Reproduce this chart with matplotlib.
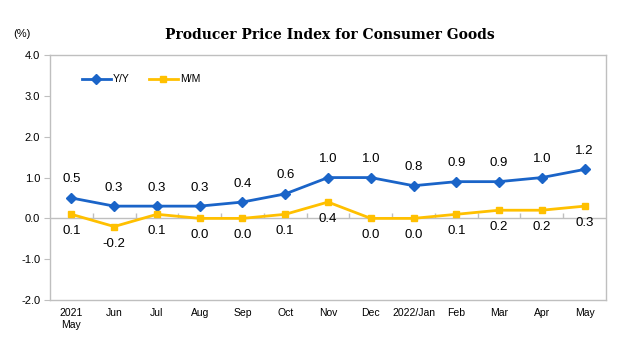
import numpy as np
import matplotlib.pyplot as plt

months = ['2021\nMay', 'Jun', 'Jul', 'Aug', 'Sep', 'Oct', 'Nov', 'Dec',
          '2022/Jan', 'Feb', 'Mar', 'Apr', 'May']
yy = [0.5, 0.3, 0.3, 0.3, 0.4, 0.6, 1.0, 1.0, 0.8, 0.9, 0.9, 1.0, 1.2]
mm = [0.1, -0.2, 0.1, 0.0, 0.0, 0.1, 0.4, 0.0, 0.0, 0.1, 0.2, 0.2, 0.3]

blue = '#1a64c8'
yellow = '#ffc000'
grey = '#bfbfbf'

fig = plt.figure(figsize=(6.23, 3.58), dpi=100)
ax = fig.add_axes([0.0803, 0.162, 0.8924, 0.684])

x = np.arange(len(months))
ax.plot(x, yy, color=blue, lw=2, marker='D', ms=5, label='Y/Y')
ax.plot(x, mm, color=yellow, lw=2, marker='s', ms=4.5, label='M/M')

for i in x:
    ax.annotate(f'{yy[i]:.1f}', (i, yy[i]), xytext=(0, 9), textcoords='offset points',
                ha='center', va='bottom', fontsize=9.5, family='Liberation Sans')
    ax.annotate(f'{mm[i]:.1f}', (i, mm[i]), xytext=(0, -8), textcoords='offset points',
                ha='center', va='top', fontsize=9.5, family='Liberation Sans')

ax.set_xlim(-0.5, len(months) - 0.5)
ax.set_ylim(-2, 4)
ax.set_yticks(np.arange(-2, 5, 1))
ax.set_yticklabels([f'{v:.1f}' for v in np.arange(-2, 5, 1)], family='Liberation Sans', fontsize=8)
ax.set_xticks(x)
ax.set_xticklabels(months, family='Liberation Sans', fontsize=7.5)
ax.tick_params(axis='x', length=0, pad=6)
ax.tick_params(axis='y', length=4, color=grey, pad=3)

# zero line with small category ticks
ax.axhline(0, color=grey, lw=1, zorder=0)
ax.vlines(x[:-1] + 0.5, 0, 0.12, color=grey, lw=1, zorder=0)

for s in ax.spines.values():
    s.set_color(grey)
    s.set_linewidth(1)

leg = ax.legend(loc='upper left', ncol=2, frameon=False, bbox_to_anchor=(0.04, 0.96),
                prop={'family': 'Liberation Sans', 'size': 7.5}, handlelength=2.8,
                columnspacing=1.8, handletextpad=0.2)

fig.text(0.53, 0.902, 'Producer Price Index for Consumer Goods', ha='center', va='center',
         family='DejaVu Serif', fontsize=10, fontweight='bold')
fig.text(0.035, 0.905, '(%)', ha='center', va='center', family='Liberation Sans', fontsize=8)

fig.savefig('out.png', dpi=100)
